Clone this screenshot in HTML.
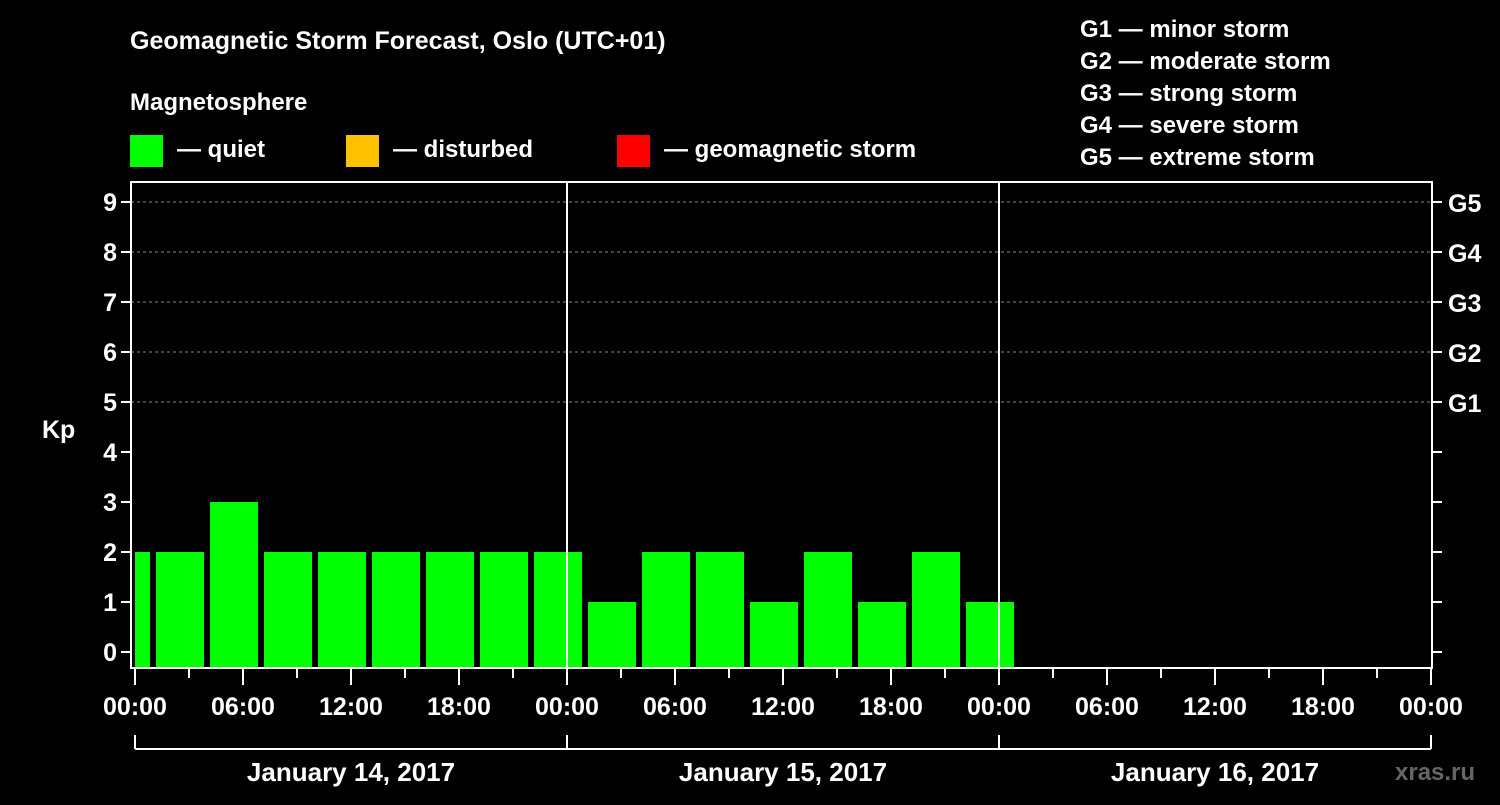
<!DOCTYPE html>
<html><head><meta charset="utf-8"><style>
body{margin:0;background:#000;width:1500px;height:800px;overflow:hidden}
svg text{font-family:"Liberation Sans",Arial,sans-serif;font-weight:bold;fill:#fff}
</style></head><body>
<svg id="chart" width="1500" height="800" viewBox="0 0 1500 800">
<text x="130" y="49" font-size="25">Geomagnetic Storm Forecast, Oslo (UTC+01)</text>
<text x="130" y="110" font-size="24">Magnetosphere</text>
<g>
<rect x="130" y="135" width="33" height="32" fill="#00ff00"/>
<text x="177" y="157" font-size="24">— quiet</text>
<rect x="346" y="135" width="33" height="32" fill="#ffc000"/>
<text x="393" y="157" font-size="24">— disturbed</text>
<rect x="617" y="135" width="33" height="32" fill="#ff0000"/>
<text x="664" y="157" font-size="24">— geomagnetic storm</text>
</g>
<g font-size="24">
<text x="1080" y="37">G1 — minor storm</text>
<text x="1080" y="69">G2 — moderate storm</text>
<text x="1080" y="101">G3 — strong storm</text>
<text x="1080" y="133">G4 — severe storm</text>
<text x="1080" y="165">G5 — extreme storm</text>
</g>
<text x="42" y="438" font-size="25">Kp</text>
<text x="1395" y="780" font-size="24" style="fill:#666">xras.ru</text>
<g id="grid"></g><g id="bars"></g><g id="axes"></g>
</svg>
<script>
const kpValues=[2,2,3,2,2,2,2,2,2,1,2,2,1,2,1,2,1];
const barStartHours=[-2,1,4,7,10,13,16,19,22,25,28,31,34,37,40,43,46];
const yTicks=[0,1,2,3,4,5,6,7,8,9];
const gLabels=["G1","G2","G3","G4","G5"];
const hourLabels=["00:00","06:00","12:00","18:00","00:00","06:00","12:00","18:00","00:00","06:00","12:00","18:00","00:00"];
const dayLabels=["January 14, 2017","January 15, 2017","January 16, 2017"];
const NS="http://www.w3.org/2000/svg";
const L=131,R=1432,T=182,B=668;
const x=h=>135+18*h;
const y=v=>652-50*v;
function mk(p,tag,a){const e=document.createElementNS(NS,tag);for(const k in a)e.setAttribute(k,a[k]);document.getElementById(p).appendChild(e);return e;}
yTicks.forEach(v=>{
 if(v>=5){const g=mk('grid','line',{x1:L,x2:R,y1:y(v),y2:y(v),stroke:'#888','stroke-dasharray':'3,3','stroke-width':1});
 
 }
});
kpValues.forEach((v,i)=>{
 const x0=Math.max(x(barStartHours[i])+3,L+4),x1=x(barStartHours[i]+3)-3;
 const c=v>=5?'#ff0000':(v>=4?'#ffc000':'#00ff00');
 const r=mk('bars','rect',{x:x0,y:y(v),width:x1-x0,height:B-y(v),fill:c});
 
 
});
const fr=mk('axes','rect',{x:L,y:T,width:R-L,height:B-T,fill:'none',stroke:'#fff','stroke-width':2});


[24,48].forEach(h=>{const d=mk('axes','line',{x1:x(h),x2:x(h),y1:T,y2:B,stroke:'#fff','stroke-width':2});

});
yTicks.forEach(v=>{
 mk('axes','line',{x1:L-10,x2:L,y1:y(v),y2:y(v),stroke:'#fff','stroke-width':2});
 mk('axes','line',{x1:R,x2:R+10,y1:y(v),y2:y(v),stroke:'#fff','stroke-width':2});
 const t=mk('axes','text',{x:L-14,y:y(v)+9,'font-size':25,'text-anchor':'end'});t.textContent=v;
 
 
 if(v>=5){const g=mk('axes','text',{x:R+16,y:y(v)+10,'font-size':25});g.textContent=gLabels[v-5];
 
 }
});
for(let h=0;h<=72;h+=3){mk('axes','line',{x1:x(h),x2:x(h),y1:B,y2:h%6==0?B+17:B+10,stroke:'#fff','stroke-width':2});}
hourLabels.forEach((s,i)=>{const t=mk('axes','text',{x:x(i*6),y:715,'font-size':25,'text-anchor':'middle'});t.textContent=s;
 
 });
mk('axes','line',{x1:x(0),x2:x(72),y1:749,y2:749,stroke:'#fff','stroke-width':2});
[0,24,48,72].forEach(h=>mk('axes','line',{x1:x(h),x2:x(h),y1:735,y2:749,stroke:'#fff','stroke-width':2}));
dayLabels.forEach((s,i)=>{const t=mk('axes','text',{x:x(i*24+12),y:781,'font-size':26,'text-anchor':'middle'});t.textContent=s;
 
 });
</script>
</body></html>
